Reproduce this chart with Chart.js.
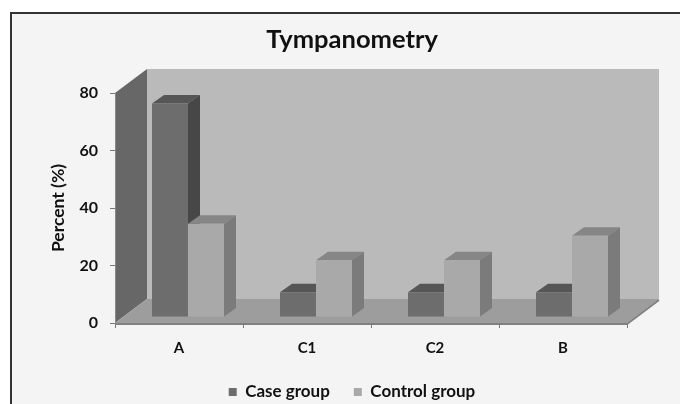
<!DOCTYPE html>
<html>
<head>
<meta charset="utf-8">
<script src="https://cdn.jsdelivr.net/npm/chart.js@4.4.0/dist/chart.umd.min.js"></script>
<style>
  html, body { margin: 0; padding: 0; overflow: hidden; background: #fff; }
  #frame { position: absolute; left: 10px; top: 12px; width: 700px; height: 420px;
           border-left: 2px solid #333; border-top: 2px solid #333; background: #f4f4f4; }
  #wrap { position: absolute; left: 0; top: 0; width: 680px; height: 404px; }
</style>
</head>
<body>
<div id="frame"></div>
<div id="wrap"><canvas id="myChart" width="680" height="404"></canvas></div>
<script>
const categories = ['A', 'C1', 'C2', 'B'];
const caseGroup = [74.3, 8.6, 8.6, 8.6];
const controlGroup = [32.4, 19.7, 19.7, 28.3];
const yMin = 0;
const yMax = 80;
const yStep = 20;

const FONT = 'Lato, "Open Sans", sans-serif';

// 3d look: depth of the walls, and where the bars sit inside it
const depth = { dx: 32, dy: -24 };
const barShift = { x: 9, y: -6 };
const barDepth = { dx: 12, dy: -8.5 };

const shades = [
    { front: '#6d6d6d', top: '#565656', side: '#474747' },
    { front: '#a9a9a9', top: '#868686', side: '#7b7b7b' }
];

function poly(ctx, pts, fill) {
    ctx.beginPath();
    ctx.moveTo(pts[0][0], pts[0][1]);
    for (let i = 1; i < pts.length; i++) ctx.lineTo(pts[i][0], pts[i][1]);
    ctx.closePath();
    ctx.fillStyle = fill;
    ctx.fill();
}

const walls = {
    id: 'walls',
    beforeDraw(chart) {
        const ctx = chart.ctx;
        const a = chart.chartArea;
        const dx = depth.dx, dy = depth.dy;
        ctx.save();
        // back wall
        poly(ctx, [[a.left + dx, a.top + dy], [a.right + dx, a.top + dy],
                   [a.right + dx, a.bottom + dy], [a.left + dx, a.bottom + dy]], '#bababa');
        // left wall
        poly(ctx, [[a.left, a.top], [a.left + dx, a.top + dy],
                   [a.left + dx, a.bottom + dy], [a.left, a.bottom]], '#676767');
        // floor
        poly(ctx, [[a.left, a.bottom], [a.left + dx, a.bottom + dy],
                   [a.right + dx, a.bottom + dy], [a.right, a.bottom]], '#9d9d9d');
        // floor edge
        ctx.strokeStyle = '#808080';
        ctx.lineWidth = 2;
        ctx.beginPath();
        ctx.moveTo(a.left, a.bottom + 1);
        ctx.lineTo(a.right, a.bottom + 1);
        ctx.lineTo(a.right + dx, a.bottom + dy + 1);
        ctx.stroke();
        ctx.restore();
    }
};

const bars3d = {
    id: 'bars3d',
    beforeDatasetsDraw(chart) {
        const ctx = chart.ctx;
        ctx.save();
        chart.data.datasets.forEach((ds, i) => {
            const meta = chart.getDatasetMeta(i);
            const sh = shades[i];
            meta.data.forEach(bar => {
                const p = bar.getProps(['x', 'y', 'base', 'width'], true);
                const l = p.x - p.width / 2 + barShift.x;
                const r = p.x + p.width / 2 + barShift.x;
                const t = p.y + barShift.y;
                const b = p.base + barShift.y;
                const dx = barDepth.dx, dy = barDepth.dy;
                poly(ctx, [[l, t], [l + dx, t + dy], [r + dx, t + dy], [r, t]], sh.top);
                poly(ctx, [[r, t], [r + dx, t + dy], [r + dx, b + dy], [r, b]], sh.side);
                poly(ctx, [[l, t], [r, t], [r, b], [l, b]], sh.front);
            });
        });
        ctx.restore();
        return false;
    }
};

const ctx = document.getElementById('myChart').getContext('2d');

const chart = new Chart(ctx, {
    type: 'bar',
    data: {
        labels: categories,
        datasets: [{
            label: 'Case group',
            data: caseGroup,
            backgroundColor: shades[0].front,
            borderWidth: 0
        }, {
            label: 'Control group',
            data: controlGroup,
            backgroundColor: shades[1].front,
            borderWidth: 0
        }]
    },
    options: {
        responsive: false,
        animation: false,
        categoryPercentage: 0.5625,
        barPercentage: 1.0,
        layout: {
            padding: { left: 45, right: 21, top: 0, bottom: -6.5 }
        },
        plugins: {
            title: {
                display: true,
                text: 'Tympanometry',
                color: '#111',
                font: { family: FONT, size: 25.5, weight: 'bold' },
                padding: { top: 24, bottom: 38.4 }
            },
            legend: {
                display: true,
                position: 'bottom',
                labels: {
                    boxWidth: 8,
                    boxHeight: 8,
                    padding: 24,
                    color: '#111',
                    font: { family: FONT, size: 17, weight: 'bold' }
                }
            },
            tooltip: { enabled: false }
        },
        scales: {
            x: {
                grid: {
                    display: true,
                    drawOnChartArea: false,
                    offset: true,
                    tickLength: 5,
                    color: '#777'
                },
                border: { display: true, color: '#808080' },
                ticks: {
                    padding: 11,
                    color: '#111',
                    font: { family: FONT, size: 15, weight: 'bold' }
                },
                afterFit(scale) { scale.height = 36.5; }
            },
            y: {
                min: yMin,
                max: yMax,
                ticks: {
                    stepSize: yStep,
                    padding: 12,
                    color: '#111',
                    font: { family: FONT, size: 16, weight: 'bold' }
                },
                grid: {
                    display: true,
                    drawOnChartArea: false,
                    tickLength: 5,
                    color: '#777'
                },
                border: { display: true, color: '#888' },
                title: {
                    display: true,
                    text: 'Percent (%)',
                    color: '#111',
                    padding: { top: 3, bottom: 0 },
                    font: { family: FONT, size: 17.5, weight: 'bold' }
                },
                afterFit(scale) { scale.width = 70; }
            },
            y2: {
                position: 'right',
                display: true,
                ticks: { display: false },
                grid: { display: false },
                border: { display: false },
                afterFit(scale) { scale.width = 32; }
            }
        }
    },
    plugins: [walls, bars3d]
});
</script>
</body>
</html>
